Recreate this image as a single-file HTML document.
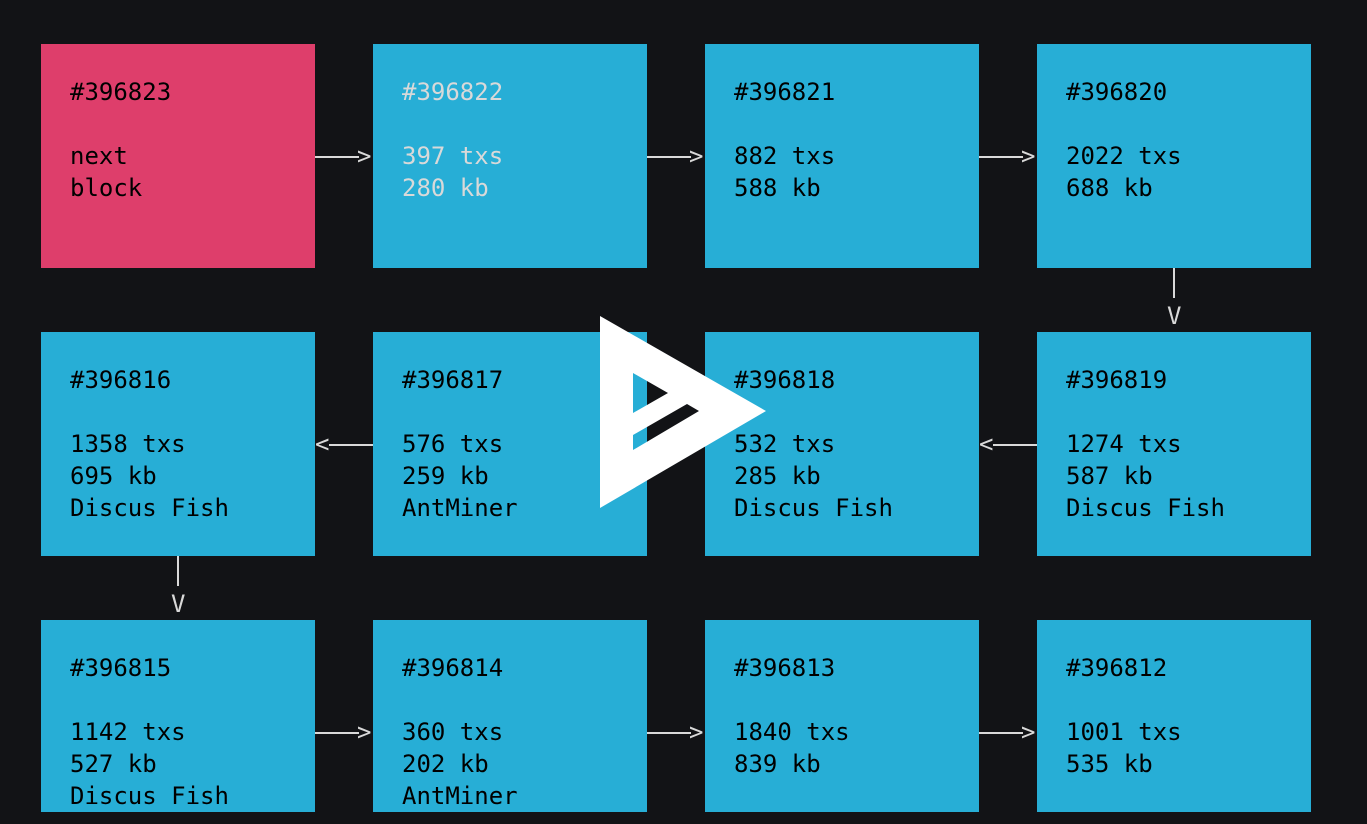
<!DOCTYPE html>
<html><head><meta charset="utf-8"><style>
html,body{margin:0;padding:0;background:#121316;width:1367px;height:824px;overflow:hidden;position:relative}
.b{position:absolute;width:274px;height:224px;background:#27aed6;color:#000;font:24px/32px "DejaVu Sans Mono","Liberation Mono",monospace;white-space:pre;box-sizing:border-box;padding:32px 0 0 29px}
.p{background:#de3e6b}
.g{color:#d9d9d9}
.h{position:absolute;height:2px;background:#d9d9d9}
.v{position:absolute;width:2px;background:#d9d9d9}
.t{position:absolute;color:#d9d9d9;font:24px/24px "DejaVu Sans Mono","Liberation Mono",monospace}
</style></head><body>
<div class="b p" style="left:41px;top:44px">#396823

next
block</div>
<div class="b g" style="left:373px;top:44px">#396822

397 txs
280 kb</div>
<div class="b" style="left:705px;top:44px">#396821

882 txs
588 kb</div>
<div class="b" style="left:1037px;top:44px">#396820

2022 txs
688 kb</div>
<div class="b" style="left:41px;top:332px">#396816

1358 txs
695 kb
Discus Fish</div>
<div class="b" style="left:373px;top:332px">#396817

576 txs
259 kb
AntMiner</div>
<div class="b" style="left:705px;top:332px">#396818

532 txs
285 kb
Discus Fish</div>
<div class="b" style="left:1037px;top:332px">#396819

1274 txs
587 kb
Discus Fish</div>
<div class="b" style="left:41px;top:620px;height:192px">#396815

1142 txs
527 kb
Discus Fish</div>
<div class="b" style="left:373px;top:620px;height:192px">#396814

360 txs
202 kb
AntMiner</div>
<div class="b" style="left:705px;top:620px;height:192px">#396813

1840 txs
839 kb</div>
<div class="b" style="left:1037px;top:620px;height:192px">#396812

1001 txs
535 kb</div>

<div class="h" style="left:315px;top:156px;width:44px"></div><div class="t" style="left:357px;top:144px">&gt;</div>
<div class="h" style="left:647px;top:156px;width:44px"></div><div class="t" style="left:689px;top:144px">&gt;</div>
<div class="h" style="left:979px;top:156px;width:44px"></div><div class="t" style="left:1021px;top:144px">&gt;</div>
<div class="h" style="left:315px;top:732px;width:44px"></div><div class="t" style="left:357px;top:720px">&gt;</div>
<div class="h" style="left:647px;top:732px;width:44px"></div><div class="t" style="left:689px;top:720px">&gt;</div>
<div class="h" style="left:979px;top:732px;width:44px"></div><div class="t" style="left:1021px;top:720px">&gt;</div>
<div class="t" style="left:315px;top:432px">&lt;</div><div class="h" style="left:329px;top:444px;width:44px"></div>
<div class="t" style="left:979px;top:432px">&lt;</div><div class="h" style="left:993px;top:444px;width:44px"></div>
<div class="v" style="left:1173px;top:268px;height:30px"></div><div class="t" style="left:1167px;top:304px">V</div>
<div class="v" style="left:177px;top:556px;height:30px"></div><div class="t" style="left:171px;top:592px">V</div>

<svg style="position:absolute;left:0;top:0" width="1367" height="824">
<path fill="#fff" fill-rule="evenodd" d="M600 316 L766 411 L600 508 Z M633 373 L668 393 L633 413 Z M633 435 L687 404 L699 411 L633 450 Z"/>
</svg>
</body></html>
